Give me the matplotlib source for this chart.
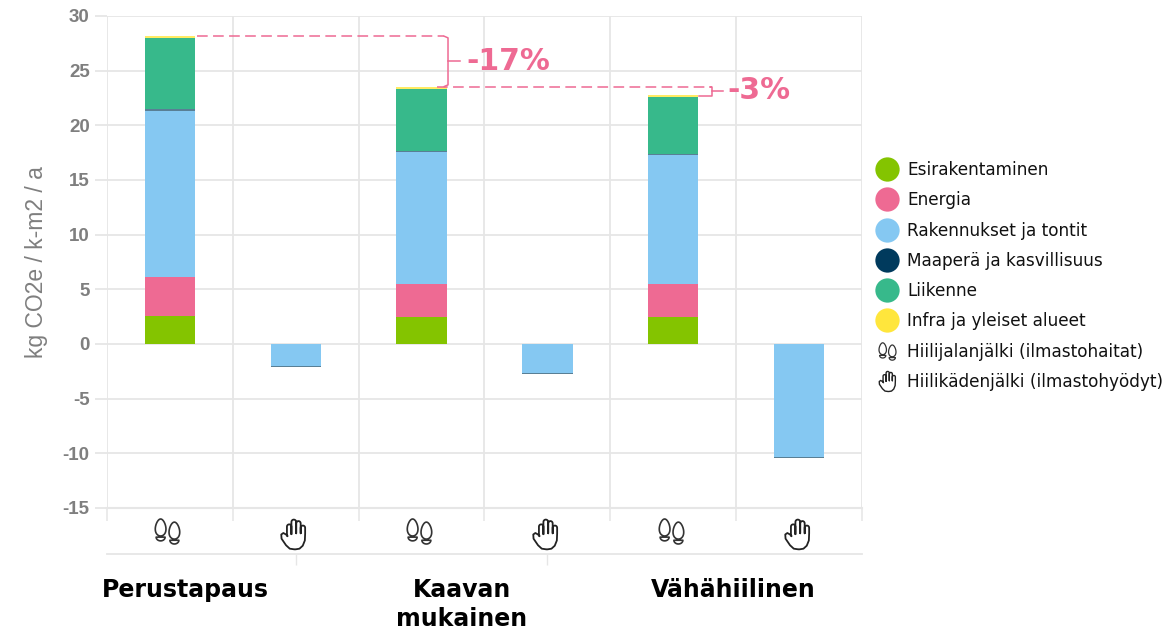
import matplotlib
matplotlib.use("Agg")
import matplotlib.pyplot as plt
import numpy as np
from matplotlib.path import Path
from matplotlib.lines import Line2D
from matplotlib.transforms import blended_transform_factory

plt.rcParams["axes.unicode_minus"] = False

# ---- data ----
series_names = ["Esirakentaminen", "Energia", "Rakennukset ja tontit",
                "Maaperä ja kasvillisuus", "Liikenne", "Infra ja yleiset alueet"]
esirakentaminen = [2.6, 0, 2.5, 0, 2.5, 0]
energia = [3.5, 0, 3.0, 0, 3.0, 0]
rakennukset = [15.25, -2.0, 12.05, -2.65, 11.75, -10.35]
maapera = [0.15, -0.1, 0.1, -0.1, 0.12, -0.1]
liikenne = [6.5, 0, 5.65, 0, 5.25, 0]
infra = [0.15, 0, 0.25, 0, 0.2, 0]
values = [esirakentaminen, energia, rakennukset, maapera, liikenne, infra]
legend_icons = ["Hiilijalanjälki (ilmastohaitat)", "Hiilikädenjälki (ilmastohyödyt)"]
groups = ["Perustapaus", "Kaavan\nmukainen", "Vähähiilinen"]
group_pos = [0.12, 2.32, 4.48]
group_ticks = [1, 3]
y_ticks = list(range(-15, 31, 5))
y_label = "kg CO2e / k-m2 / a"
pct_labels = ["-17%", "-3%"]

colors = ["#84C400", "#EE6A93", "#85C8F2", "#003A5D", "#37B98B", "#FFE63C"]
bar_alpha = [1, 1, 1, 0.65, 1, 0.8]
PINK = "#EE6A93"
GRID = "#E6E6E6"
GRAY = "#7F7F7F"


def closed(pts):
    pts = list(pts) + [pts[0]]
    return Path(pts, [Path.MOVETO] + [Path.LINETO] * (len(pts) - 2) + [Path.CLOSEPOLY])


def egg(cx, cy, rx, ry):
    t = np.linspace(0, 2 * np.pi, 40, endpoint=False)
    return closed([(cx + rx * np.sin(a) * (1 - 0.2 * np.cos(a)), cy + ry * np.cos(a)) for a in t])


def heel(cx, top, rx, h):
    t = np.linspace(0, np.pi, 14)
    return closed([(cx + rx * np.cos(a), top - h * np.sin(a)) for a in t])


FOOT = Path.make_compound_path(
    egg(-0.55, 0.32, 0.42, 0.68), heel(-0.55, -0.45, 0.36, 0.3),
    egg(0.55, 0.07, 0.42, 0.68), heel(0.55, -0.70, 0.36, 0.3))


def finger(x0, x1, top, base):
    xm = (x0 + x1) / 2
    r = (x1 - x0) / 2
    a = np.linspace(np.pi, 0, 9)
    return [(x0, base)] + [(xm + r * np.cos(t), top - r + r * np.sin(t)) for t in a] + [(x1, base)]


def hand_path():
    pts = [(0.1, -1.0), (-0.25, -0.95), (-0.5, -0.72), (-0.8, -0.28), (-0.82, 0.0),
           (-0.68, 0.1), (-0.5, 0.0), (-0.4, -0.12)]
    pts += finger(-0.44, -0.14, 0.68, 0.02)
    pts += finger(-0.14, 0.18, 1.0, 0.08)[1:]
    pts += finger(0.18, 0.48, 0.9, 0.08)[1:]
    pts += finger(0.48, 0.78, 0.6, 0.08)[1:]
    pts += [(0.76, -0.4), (0.62, -0.75), (0.4, -0.95), (0.1, -1.0)]
    return Path(pts, [Path.MOVETO] + [Path.LINETO] * (len(pts) - 1))


HAND = hand_path()

fig = plt.figure(figsize=(11.68, 6.3), dpi=100, facecolor="white")
ax = fig.add_axes([107 / 1168, 1 - 508 / 630, 755 / 1168, 492 / 630])
positions = np.arange(6)
ax.set_xlim(-0.5, 5.5)
ax.set_ylim(-15, 30)

pos_base = np.zeros(6)
neg_base = np.zeros(6)
for vals, col, name, al in zip(values, colors, series_names, bar_alpha):
    v = np.array(vals, dtype=float)
    bottom = np.where(v >= 0, pos_base, neg_base)
    ax.bar(positions, v, 0.4, bottom=bottom, color=col, alpha=al, linewidth=0, zorder=3, label=name)
    pos_base += np.where(v > 0, v, 0)
    neg_base += np.where(v < 0, v, 0)

# grid and axes
ax.set_axisbelow(True)
ax.set_yticks(y_ticks)
ax.set_xticks(np.arange(-0.5, 5.6, 1))
ax.set_xticklabels([])
ax.grid(True, color=GRID, linewidth=1.3)
for s in ["top", "right", "left"]:
    ax.spines[s].set_visible(False)
ax.spines["bottom"].set_color(GRID)
ax.spines["bottom"].set_linewidth(1.5)
ax.tick_params(axis="y", length=8.5, width=1.3, color=GRID, labelcolor=GRAY, pad=4, labelsize=13.5)
ax.tick_params(axis="x", length=9.5, width=1.1, color=GRID)
for lab in ax.get_yticklabels():
    lab.set_fontfamily("Liberation Sans")
    lab.set_fontweight("bold")
fig.text(37 / 1168, 1 - 262 / 630, y_label, rotation=90, color=GRAY, ha="center", va="center",
         fontsize=16.5, fontfamily="Liberation Sans")

# icons under the bars
btrans = blended_transform_factory(ax.transData, ax.transAxes)
ax.plot(positions[::2] - 0.02, [-0.0467] * 3, ls="none", marker=FOOT, ms=18, mfc="none", mec="#333333",
        mew=1.2, transform=btrans, clip_on=False)
ax.plot(positions[1::2] - 0.02, [-0.0528] * 3, ls="none", marker=HAND, ms=21.5, mfc="none", mec="#222222",
        mew=1.3, transform=btrans, clip_on=False)

# group axis
sec = ax.secondary_xaxis(-46 / 492)
sec.set_xticks(group_ticks)
sec.set_xticklabels([])
sec.tick_params(axis="x", length=8, width=1.0, color=GRID)
sec.spines["bottom"].set_color(GRID)
sec.spines["bottom"].set_linewidth(1.3)
for name, x in zip(groups, group_pos):
    ax.text(x, -70 / 492, name, transform=btrans, ha="center", va="top", fontsize=17, fontweight="bold",
            color="black", linespacing=1.25, clip_on=False)

# change annotations
tot = pos_base
lw = 1.1
dash = (0, (7, 3.5))
y01 = (tot[0] + tot[2]) / 2
y12 = (tot[2] + tot[4]) / 2
ax.plot([0.215, 2.18], [tot[0], tot[0]], color=PINK, lw=lw, ls=dash, zorder=4)
ax.plot([2.18, 2.21, 2.21, 2.18], [tot[0], tot[0] - 0.15, tot[2] + 0.15, tot[2]], color=PINK, lw=lw, zorder=4)
ax.plot([2.21, 2.305], [y01, y01], color=PINK, lw=lw, zorder=4)
ax.plot([2.12, 4.305], [tot[2], tot[2]], color=PINK, lw=lw, ls=dash, zorder=4)
ax.plot([4.29, 4.305, 4.305, 4.205], [tot[2], tot[2], tot[4] - 0.1, tot[4] - 0.1], color=PINK, lw=lw, zorder=4)
ax.plot([4.305, 4.395], [y12, y12], color=PINK, lw=lw, zorder=4)
ax.text(2.353, y01, pct_labels[0], color=PINK, fontsize=21.5, fontweight="bold",
        ha="left", va="center", zorder=5)
ax.text(4.43, y12, pct_labels[1], color=PINK, fontsize=21.5, fontweight="bold",
        ha="left", va="center", zorder=5)

# legend
handles = [Line2D([], [], ls="none", marker="o", ms=17.5, mfc=c, mec="none") for c in colors]
handles += [Line2D([], [], ls="none", marker=FOOT, ms=12.5, mfc="none", mec="#333333", mew=0.9),
            Line2D([], [], ls="none", marker=HAND, ms=14.5, mfc="none", mec="#222222", mew=1.0)]
leg = fig.legend(handles, series_names + legend_icons, loc="upper left",
                 bbox_to_anchor=(877 / 1168, 1 - 161 / 630), frameon=False, fontsize=12.2,
                 labelspacing=0.725, handlelength=1.2, handletextpad=0.59, borderpad=0, borderaxespad=0,
                 labelcolor="#111111", numpoints=1)
fig.savefig("out.png", dpi=100)
